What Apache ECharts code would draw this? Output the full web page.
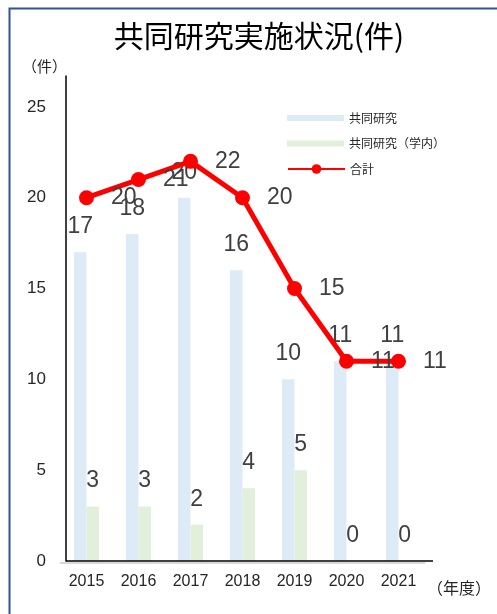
<!DOCTYPE html>
<html>
<head>
<meta charset="utf-8">
<script src="https://cdn.jsdelivr.net/npm/echarts@6/dist/echarts.min.js"></script>
<style>
html,body{margin:0;padding:0;background:#fff;}
#chart{width:497px;height:614px;}
</style>
</head>
<body>
<div id="chart"></div>
<script>
const categories = ['2015', '2016', '2017', '2018', '2019', '2020', '2021'];
const jointResearch = [17, 18, 20, 16, 10, 11, 11];
const jointResearchInternal = [3, 3, 2, 4, 5, 0, 0];
const totals = [20, 21, 22, 20, 15, 11, 11];
const yTickLabels = [0, 5, 10, 15, 20, 25];
const seriesNames = ['共同研究', '共同研究（学内）', '合計'];
const titleText = '共同研究実施状況(件)';
const yUnit = '（件）';
const xUnit = '（年度）';

const numFont = '"Liberation Sans", Arial, sans-serif';
const labelFont = '"Liberation Sans", Arial, sans-serif';
const cjkFont = '"Noto Sans CJK JP", "Noto Sans", sans-serif';

const chart = echarts.init(document.getElementById('chart'), null, {renderer: 'canvas'});

const dataLabel = {
  show: true,
  position: 'top',
  distance: 14,
  fontFamily: labelFont,
  fontSize: 23,
  color: '#404040'
};

chart.setOption({
  backgroundColor: '#ffffff',
  animation: false,
  title: {
    text: titleText,
    left: 254,
    textAlign: 'center',
    top: 16,
    textStyle: {fontFamily: cjkFont, fontSize: 30, fontWeight: 'normal', color: '#000000'}
  },
  legend: [
    {
      data: [seriesNames[0], seriesNames[1]],
      orient: 'vertical',
      left: 282,
      top: 106,
      itemWidth: 57,
      itemHeight: 6,
      itemGap: 11.5,
      icon: 'rect',
      textStyle: {fontFamily: cjkFont, fontSize: 12, lineHeight: 14, color: '#262626'}
    },
    {
      data: [seriesNames[2]],
      orient: 'vertical',
      left: 282,
      top: 157,
      itemWidth: 57,
      itemHeight: 12,
      textStyle: {fontFamily: cjkFont, fontSize: 12, lineHeight: 14, color: '#262626'}
    }
  ],
  grid: {left: 60.5, right: 72.5, top: 76, bottom: 53, containLabel: false},
  xAxis: [
    {
      type: 'category',
      data: categories,
      axisLine: {show: false},
      axisTick: {show: false},
      axisLabel: {interval: 0, fontFamily: numFont, fontSize: 16, color: '#262626', margin: 13}
    },
    {
      type: 'category',
      data: categories,
      position: 'bottom',
      offset: 2,
      axisLine: {show: true, lineStyle: {color: '#D9D9D9', width: 2}},
      axisTick: {show: false},
      axisLabel: {show: false},
      z: 0
    }
  ],
  yAxis: {
    type: 'value',
    min: 0,
    max: 26.7,
    interval: 5,
    offset: -5.5,
    axisLine: {show: true, lineStyle: {color: '#000000', width: 1.5}},
    axisTick: {show: false},
    splitLine: {show: false},
    axisLabel: {
      fontFamily: numFont,
      fontSize: 17,
      color: '#262626',
      margin: 20,
      formatter: function (v) { return yTickLabels.indexOf(v) >= 0 ? String(v) : ''; }
    }
  },
  series: [
    {
      name: seriesNames[0],
      type: 'bar',
      data: jointResearch,
      barWidth: 12.5,
      barGap: '0%',
      itemStyle: {color: '#DDEBF7'},
      label: dataLabel,
      z: 2
    },
    {
      name: seriesNames[1],
      type: 'bar',
      data: jointResearchInternal,
      barWidth: 12.5,
      barGap: '0%',
      itemStyle: {color: '#E2EFDA'},
      label: dataLabel,
      z: 2
    },
    {
      name: seriesNames[2],
      type: 'line',
      data: totals,
      symbol: 'circle',
      symbolSize: 15,
      lineStyle: {color: '#FF0000', width: 5},
      itemStyle: {color: '#FF0000'},
      label: {
        show: true,
        position: 'right',
        distance: 17,
        fontFamily: labelFont,
        fontSize: 23,
        color: '#404040'
      },
      z: 3
    }
  ],
  graphic: [
    {
      type: 'rect',
      left: 7,
      top: 6,
      shape: {x: 0, y: 0, width: 520, height: 640},
      style: {fill: 'none', stroke: '#2F5597', lineWidth: 2},
      silent: true,
      z: 100
    },
    {
      type: 'line',
      shape: {x1: 66, y1: 561, x2: 433, y2: 561},
      style: {stroke: '#000000', lineWidth: 1.5},
      silent: true,
      z: 50
    },
    {
      type: 'text',
      left: 22,
      top: 59,
      style: {text: yUnit, fontFamily: cjkFont, fontSize: 15, fill: '#262626'}
    },
    {
      type: 'text',
      left: 427,
      top: 580,
      style: {text: xUnit, fontFamily: cjkFont, fontSize: 16, fill: '#262626'}
    }
  ]
});
</script>
</body>
</html>
